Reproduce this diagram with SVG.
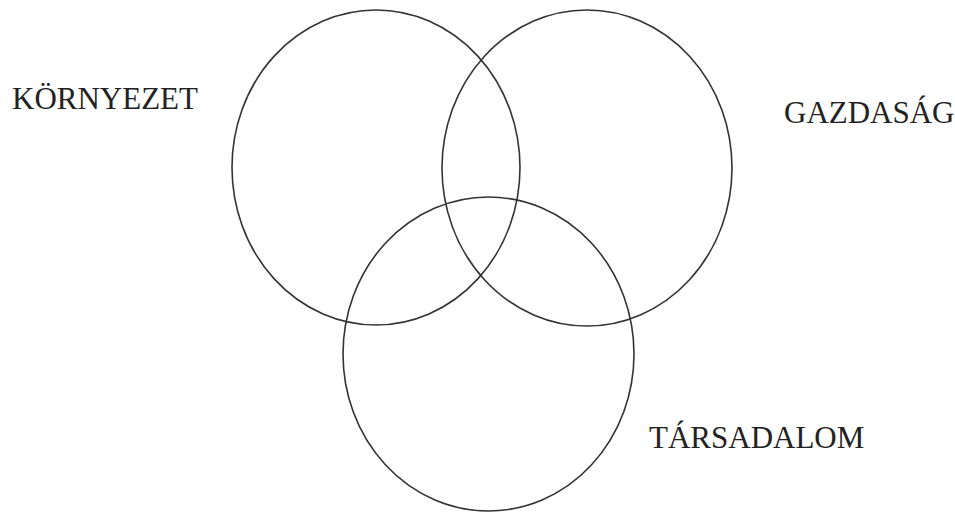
<svg xmlns="http://www.w3.org/2000/svg" width="955" height="512" viewBox="0 0 955 512">
<style>
.c{fill:none;stroke:#333;stroke-width:1.6}
.t{font-family:"Liberation Serif","Times New Roman",serif;font-size:31px;fill:#222}
</style>
<rect width="955" height="512" fill="#fff"/>
<g id="kornyezet"><ellipse class="c" cx="376" cy="167.5" rx="144" ry="157.5"/><text class="t" x="12" y="109">KÖRNYEZET</text></g>
<g id="gazdasag"><ellipse class="c" cx="587" cy="168" rx="145" ry="158"/><text class="t" x="784" y="123">GAZDASÁG</text></g>
<g id="tarsadalom"><ellipse class="c" cx="488.5" cy="354" rx="145.5" ry="157"/><text class="t" x="649" y="448">TÁRSADALOM</text></g>
</svg>
